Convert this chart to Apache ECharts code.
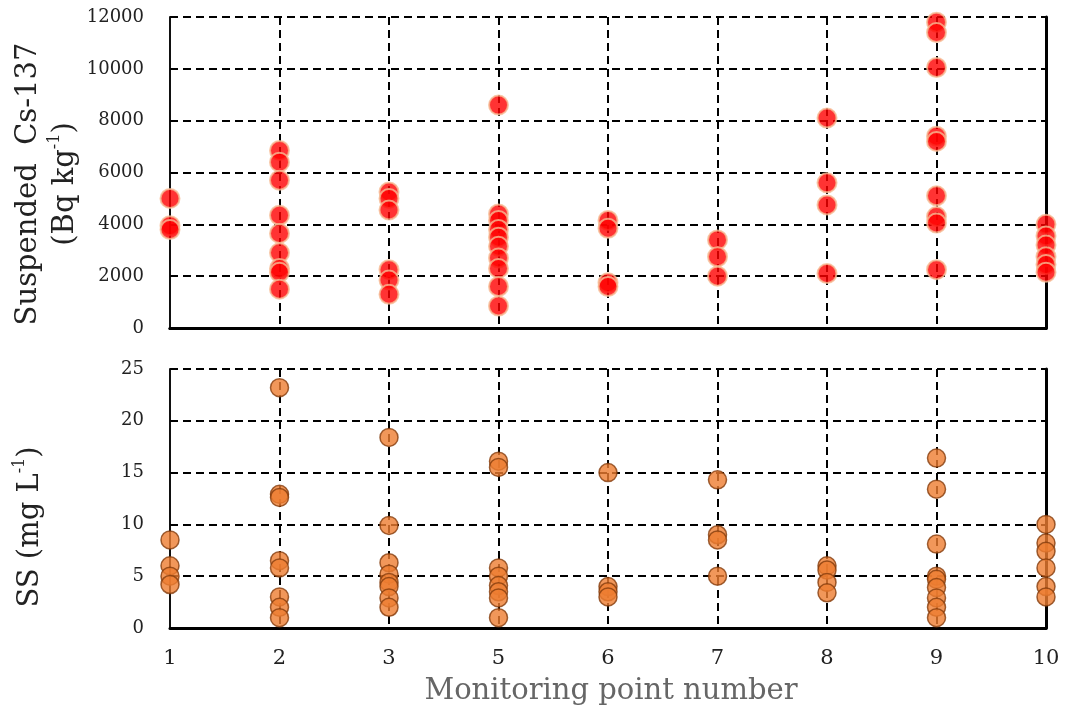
<!DOCTYPE html>
<html>
<head>
<meta charset="utf-8">
<script src="https://cdn.jsdelivr.net/npm/echarts@6/dist/echarts.min.js"></script>
<style>html,body{margin:0;padding:0;background:#fff;}#c{width:1067px;height:711px;}</style>
</head>
<body>
<div id="c"></div>
<script>
// Monitoring point categories
const categories = ['1', '2', '3', '5', '6', '7', '8', '9', '10'];

// Suspended Cs-137 (Bq kg-1) per monitoring point
const csPt1 = [5000, 3950, 3800];
const csPt2 = [6850, 6400, 5700, 4350, 3650, 2900, 2300, 2150, 1500];
const csPt3 = [5250, 5000, 4550, 2250, 1850, 1300];
const csPt5 = [8600, 4400, 4150, 3800, 3500, 3150, 2700, 2300, 1600, 850];
const csPt6 = [4150, 3850, 1750, 1600];
const csPt7 = [3400, 2750, 2000];
const csPt8 = [8100, 5600, 4750, 2100];
const csPt9 = [11800, 11400, 10050, 7400, 7200, 5100, 4300, 4050, 2250];
const csPt10 = [4000, 3550, 3200, 2750, 2450, 2150];

// SS (mg L-1) per monitoring point
const ssPt1 = [8.5, 6.0, 5.0, 4.2];
const ssPt2 = [23.2, 12.9, 12.6, 6.5, 5.8, 3.0, 2.0, 1.0];
const ssPt3 = [18.4, 9.9, 6.3, 5.2, 4.4, 4.0, 2.9, 2.0];
const ssPt5 = [16.1, 15.5, 5.8, 5.0, 4.1, 3.5, 2.9, 1.0];
const ssPt6 = [15.0, 4.0, 3.5, 3.0];
const ssPt7 = [14.3, 9.0, 8.5, 5.0];
const ssPt8 = [6.0, 5.6, 4.4, 3.4];
const ssPt9 = [16.4, 13.4, 8.1, 5.0, 4.7, 3.9, 2.9, 2.0, 1.0];
const ssPt10 = [10.0, 8.2, 7.4, 5.8, 4.0, 3.0];

// Axis ranges
const csMin = 0, csMax = 12000, csStep = 2000;
const ssMin = 0, ssMax = 25, ssStep = 5;

const csGroups = [csPt1, csPt2, csPt3, csPt5, csPt6, csPt7, csPt8, csPt9, csPt10];
const ssGroups = [ssPt1, ssPt2, ssPt3, ssPt5, ssPt6, ssPt7, ssPt8, ssPt9, ssPt10];

function toPairs(groups) {
  const out = [];
  groups.forEach((g, i) => g.forEach(v => out.push([categories[i], v])));
  return out;
}

const FONT = 'DejaVu Serif';
const dash = { color: '#000', width: 2, type: [8, 5] };

function mainX(gi, showLabels, lineW) {
  return {
    type: 'category', gridIndex: gi, data: categories, boundaryGap: false, position: 'bottom',
    axisLine: { show: true, lineStyle: { color: '#000', width: lineW } },
    axisTick: { show: false },
    axisLabel: { show: showLabels, fontFamily: FONT, fontSize: 21, color: '#222', margin: 20 },
    splitLine: { show: true, lineStyle: dash }
  };
}
function topX(gi) {
  return {
    type: 'category', gridIndex: gi, data: categories, boundaryGap: false, position: 'top',
    axisLine: { show: true, lineStyle: { color: '#000', width: 3 } },
    axisTick: { show: false }, axisLabel: { show: false }, splitLine: { show: false }
  };
}
function mainY(gi, min, max, step) {
  return {
    type: 'value', gridIndex: gi, min: min, max: max, interval: step, position: 'left',
    axisLine: { show: true, lineStyle: { color: '#111', width: 2 } },
    axisTick: { show: true, inside: true, length: 5, lineStyle: { color: '#000', width: 1.5 } },
    axisLabel: { fontFamily: FONT, fontSize: 18, color: '#222', margin: 26, formatter: v => String(v) },
    splitLine: { show: true, lineStyle: dash }
  };
}
function rightY(gi, min, max, step) {
  return {
    type: 'value', gridIndex: gi, min: min, max: max, interval: step, position: 'right',
    axisLine: { show: true, lineStyle: { color: '#000', width: 3 } },
    axisTick: { show: false }, axisLabel: { show: false }, splitLine: { show: false }
  };
}

const chart = echarts.init(document.getElementById('c'));
chart.setOption({
  animation: false,
  backgroundColor: '#fff',
  grid: [
    { left: 170, right: 21, top: 17, height: 311 },
    { left: 170, right: 21, top: 369, height: 259 }
  ],
  xAxis: [mainX(0, false, 3), topX(0), mainX(1, true, 1.5), topX(1)],
  yAxis: [
    mainY(0, csMin, csMax, csStep), rightY(0, csMin, csMax, csStep),
    mainY(1, ssMin, ssMax, ssStep), rightY(1, ssMin, ssMax, ssStep)
  ],
  series: [
    {
      type: 'scatter', xAxisIndex: 0, yAxisIndex: 0, data: toPairs(csGroups),
      symbol: 'circle', symbolSize: 19, clip: false,
      itemStyle: { color: '#ff0000', borderColor: '#f6bc94', borderWidth: 2 }
    },
    {
      type: 'scatter', xAxisIndex: 2, yAxisIndex: 2, data: toPairs(ssGroups),
      symbol: 'circle', symbolSize: 18, clip: false,
      itemStyle: { color: '#ed7d31', borderColor: '#843c0c', borderWidth: 1.5 }
    }
  ],
  graphic: [
    {
      type: 'text', x: 47, y: 184, rotation: Math.PI / 2,
      style: {
        text: 'Suspended  Cs-137\n(Bq kg{sup|-1})',
        fontFamily: FONT, fontSize: 29, fill: '#222', align: 'center', verticalAlign: 'middle',
        lineHeight: 37,
        rich: { sup: { fontFamily: FONT, fontSize: 16, fill: '#222', verticalAlign: 'top', lineHeight: 37 } }
      }
    },
    {
      type: 'text', x: 30, y: 527, rotation: Math.PI / 2,
      style: {
        text: 'SS (mg L{sup|-1})',
        fontFamily: FONT, fontSize: 29, fill: '#222', align: 'center', verticalAlign: 'middle',
        lineHeight: 37,
        rich: { sup: { fontFamily: FONT, fontSize: 16, fill: '#222', verticalAlign: 'top', lineHeight: 37 } }
      }
    },
    {
      type: 'text', x: 611, y: 691,
      style: {
        text: 'Monitoring point number',
        fontFamily: FONT, fontSize: 29, fill: '#666', align: 'center', verticalAlign: 'middle'
      }
    }
  ]
});
</script>
</body>
</html>
